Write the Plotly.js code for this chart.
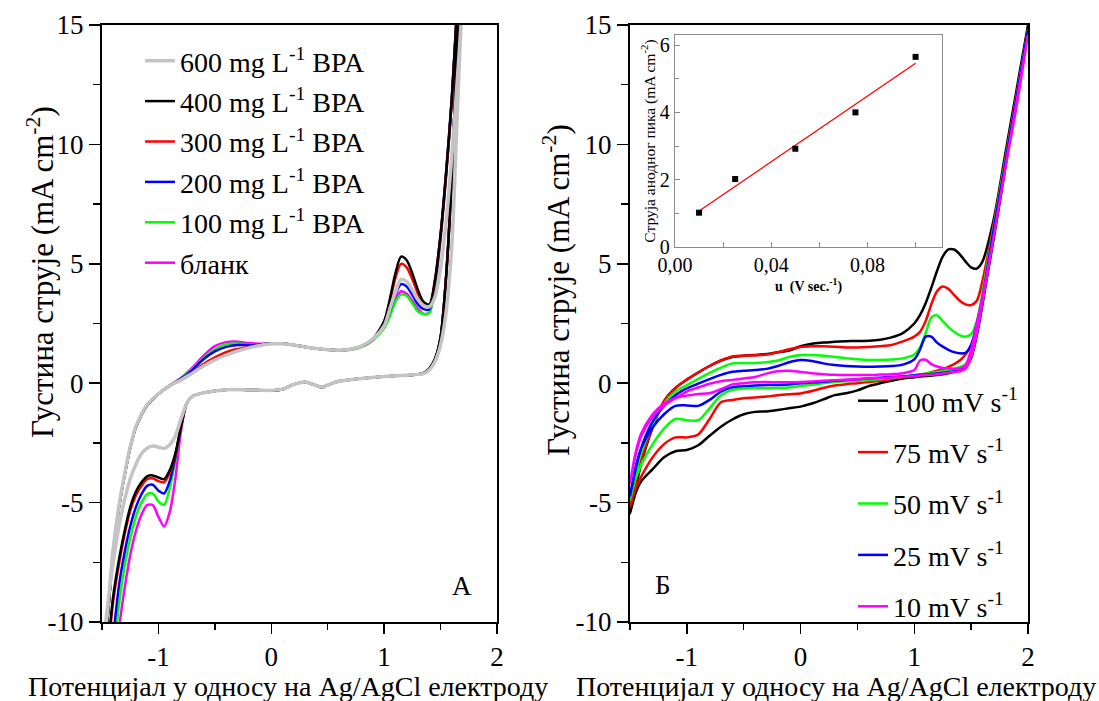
<!DOCTYPE html>
<html>
<head>
<meta charset="utf-8">
<script src="https://cdn.plot.ly/plotly-3.0.1.min.js"></script>
<style>html,body{margin:0;padding:0;background:#fff;}#chart{width:1099px;height:701px;}</style>
</head>
<body>
<div id="chart"></div>
<script>
// ---------- Panel A (left): potential grids ----------
const leftFwdE = [-1.5,-1.45,-1.4,-1.35,-1.3,-1.25,-1.2,-1.1,-1.0,-0.9,-0.8,-0.7,-0.6,-0.5,-0.4,-0.3,-0.2,-0.1,0,0.1,0.2,0.3,0.4,0.5,0.6,0.7,0.8,0.9,1.0,1.05,1.1,1.15,1.2,1.25,1.3,1.35,1.4,1.45,1.5,1.55,1.6,1.65,1.7];
const leftRevE = [1.7,1.65,1.6,1.55,1.5,1.45,1.4,1.35,1.3,1.2,1.0,0.8,0.6,0.5,0.45,0.4,0.3,0.2,0.1,0.0,-0.2,-0.4,-0.6,-0.7,-0.75,-0.8,-0.85,-0.9,-0.95,-1.0,-1.05,-1.1,-1.15,-1.2,-1.25,-1.3,-1.35,-1.4,-1.45,-1.5];

// currents (mA cm-2), forward (anodic) sweep
const bpa600Fwd = [-11.8,-9.5,-6.9,-5.15,-3.82,-2.68,-1.82,-0.9,-0.45,-0.1,0.13,0.42,0.72,0.98,1.18,1.35,1.48,1.58,1.65,1.65,1.6,1.52,1.45,1.4,1.38,1.42,1.55,1.85,2.4,3.1,3.8,4.35,4.25,3.9,3.5,3.25,3.2,3.6,4.8,6.8,9.5,12.8,16.5];
const bpa400Fwd = [-12,-9.8,-7.0,-5.2,-3.85,-2.7,-1.85,-0.92,-0.45,-0.1,0.14,0.43,0.75,1.0,1.2,1.37,1.5,1.6,1.67,1.66,1.6,1.52,1.45,1.4,1.38,1.42,1.55,1.85,2.6,3.5,4.6,5.3,5.15,4.6,3.9,3.4,3.3,4.3,6.2,8.8,11.9,16,20];
const bpa300Fwd = [-12,-9.8,-7.0,-5.2,-3.85,-2.7,-1.85,-0.92,-0.45,-0.1,0.15,0.45,0.8,1.08,1.3,1.43,1.52,1.6,1.67,1.66,1.6,1.52,1.45,1.4,1.38,1.42,1.55,1.85,2.55,3.4,4.4,5.0,4.85,4.35,3.75,3.3,3.2,4.3,6.2,8.8,11.9,16,20];
const bpa200Fwd = [-12,-9.8,-7.0,-5.2,-3.85,-2.7,-1.85,-0.92,-0.45,-0.1,0.18,0.55,1.0,1.33,1.52,1.6,1.6,1.62,1.66,1.66,1.6,1.52,1.45,1.4,1.38,1.42,1.55,1.85,2.4,3.0,3.7,4.15,4.05,3.7,3.3,3.1,3.1,4.2,6.2,8.9,12,16,20];
const bpa100Fwd = [-12,-9.8,-7.0,-5.2,-3.85,-2.7,-1.85,-0.92,-0.45,-0.1,0.2,0.6,1.05,1.42,1.63,1.66,1.63,1.63,1.65,1.65,1.6,1.52,1.45,1.4,1.37,1.4,1.52,1.8,2.3,2.8,3.4,3.72,3.65,3.35,3.0,2.9,2.95,4.1,6.1,8.8,11.9,16,20];
const blankFwd  = [-12,-9.8,-7.0,-5.2,-3.85,-2.7,-1.85,-0.92,-0.45,-0.1,0.22,0.65,1.15,1.55,1.72,1.74,1.68,1.65,1.65,1.65,1.6,1.52,1.45,1.4,1.37,1.4,1.52,1.8,2.35,2.9,3.5,3.85,3.75,3.45,3.1,2.9,2.95,4.0,6.0,8.7,11.8,15.8,20];

// reverse (cathodic) sweep
const bpa600Rev = [17,11.5,5.8,3.0,1.6,0.9,0.55,0.4,0.37,0.33,0.28,0.2,0.08,-0.08,-0.17,-0.1,0.05,-0.05,-0.25,-0.3,-0.28,-0.27,-0.4,-0.55,-0.85,-1.5,-2.2,-2.58,-2.73,-2.68,-2.63,-2.72,-2.95,-3.4,-4.0,-4.9,-6.0,-7.5,-9.3,-11.5];
const bpa400Rev = [19,14.5,8.7,4.5,1.9,1.0,0.6,0.42,0.37,0.33,0.28,0.2,0.08,-0.08,-0.17,-0.1,0.05,-0.05,-0.25,-0.3,-0.28,-0.27,-0.4,-0.55,-0.85,-1.8,-2.95,-3.65,-4.02,-3.95,-3.86,-3.9,-4.15,-4.55,-5.2,-6.2,-7.4,-8.9,-11.2,-13.5];
const bpa300Rev = [19,14.5,8.7,4.5,1.9,1.0,0.6,0.42,0.37,0.33,0.28,0.2,0.08,-0.08,-0.17,-0.1,0.05,-0.05,-0.25,-0.3,-0.28,-0.27,-0.4,-0.55,-0.85,-1.85,-3.0,-3.75,-4.15,-4.1,-3.98,-4.02,-4.3,-4.7,-5.35,-6.35,-7.6,-9.1,-11.4,-14];
const bpa200Rev = [19,14.5,8.7,4.5,1.9,1.0,0.6,0.42,0.37,0.33,0.28,0.2,0.08,-0.08,-0.17,-0.1,0.05,-0.05,-0.25,-0.3,-0.28,-0.27,-0.4,-0.55,-0.85,-1.85,-3.1,-4.1,-4.62,-4.5,-4.25,-4.3,-4.65,-5.2,-6.0,-7.1,-8.5,-10.6,-13,-15];
const bpa100Rev = [19,14.5,8.7,4.5,1.9,1.0,0.6,0.42,0.37,0.33,0.28,0.2,0.08,-0.08,-0.2,-0.1,0.05,-0.05,-0.25,-0.3,-0.28,-0.27,-0.4,-0.55,-0.85,-1.8,-3.2,-4.4,-5.1,-4.95,-4.62,-4.65,-5.0,-5.6,-6.5,-7.7,-9.3,-11.5,-14,-16];
const blankRev  = [19,14.5,8.7,4.5,1.9,1.0,0.6,0.42,0.37,0.33,0.28,0.2,0.08,-0.08,-0.17,-0.1,0.05,-0.05,-0.25,-0.3,-0.28,-0.27,-0.4,-0.55,-0.85,-2.0,-4.0,-5.4,-6.0,-5.6,-5.1,-5.1,-5.5,-6.2,-7.2,-8.6,-10.3,-12.5,-15,-17];

const leftNames = ['600 mg L<sup>-1</sup> BPA','400 mg L<sup>-1</sup> BPA','300 mg L<sup>-1</sup> BPA','200 mg L<sup>-1</sup> BPA','100 mg L<sup>-1</sup> BPA','бланк'];

// ---------- Panel Б (right): scan rates ----------
const rightFwdE = [-1.5,-1.45,-1.4,-1.3,-1.2,-1.1,-1.0,-0.9,-0.8,-0.7,-0.6,-0.5,-0.4,-0.3,-0.2,-0.1,0,0.1,0.2,0.3,0.4,0.5,0.6,0.7,0.8,0.9,1.0,1.05,1.1,1.15,1.2,1.25,1.3,1.35,1.4,1.45,1.5,1.55,1.6,1.7,1.8,1.9,2.0];
const rightRevE = [2.0,1.9,1.8,1.7,1.6,1.55,1.5,1.45,1.4,1.3,1.2,1.1,1.0,0.9,0.8,0.7,0.6,0.5,0.4,0.3,0.2,0.1,0,-0.1,-0.2,-0.3,-0.4,-0.5,-0.6,-0.7,-0.8,-0.9,-1.0,-1.1,-1.2,-1.3,-1.4,-1.45,-1.5];

const v100Fwd = [-5.45,-4.4,-3.35,-1.85,-0.75,-0.2,0.15,0.45,0.72,0.95,1.1,1.15,1.18,1.22,1.3,1.37,1.55,1.65,1.7,1.74,1.76,1.77,1.78,1.82,1.92,2.1,2.5,2.85,3.35,4.0,4.7,5.3,5.6,5.6,5.4,5.1,4.85,4.8,5.1,6.9,9.6,12.3,15.0];
const v75Fwd  = [-5.2,-4.1,-3.2,-1.8,-0.75,-0.2,0.15,0.45,0.72,0.95,1.12,1.15,1.17,1.2,1.3,1.42,1.52,1.55,1.55,1.53,1.5,1.5,1.52,1.55,1.6,1.75,1.95,2.15,2.6,3.3,3.85,4.05,3.95,3.7,3.45,3.3,3.27,3.45,4.3,6.7,9.4,12.1,14.8];
const v50Fwd  = [-4.9,-3.8,-2.9,-1.7,-0.85,-0.35,-0.08,0.18,0.43,0.65,0.83,0.85,0.85,0.88,0.95,1.1,1.18,1.18,1.15,1.1,1.05,1.0,0.97,0.97,0.99,1.04,1.2,1.5,2.1,2.75,2.85,2.6,2.35,2.15,2.0,1.95,2.05,2.6,3.8,6.6,9.3,12.0,14.8];
const v25Fwd  = [-4.75,-3.6,-2.7,-1.6,-0.95,-0.5,-0.22,-0.02,0.17,0.35,0.48,0.52,0.55,0.6,0.72,0.88,0.97,0.93,0.83,0.76,0.72,0.7,0.69,0.7,0.72,0.78,1.0,1.4,1.95,1.95,1.7,1.53,1.4,1.3,1.25,1.27,1.6,2.5,3.6,6.5,9.2,12.0,14.8];
const v10Fwd  = [-4.2,-3.0,-2.2,-1.4,-0.95,-0.63,-0.35,-0.18,-0.02,0.08,0.14,0.2,0.26,0.4,0.5,0.52,0.47,0.42,0.38,0.35,0.34,0.34,0.34,0.36,0.38,0.42,0.55,0.95,0.98,0.8,0.7,0.64,0.62,0.6,0.62,0.75,1.4,2.5,3.6,6.2,9.0,11.6,14.6];

const v100Rev = [15.0,12.0,9.0,6.1,3.4,2.1,1.1,0.7,0.55,0.42,0.34,0.3,0.25,0.2,0.1,0.0,-0.12,-0.3,-0.42,-0.5,-0.68,-0.85,-0.98,-1.05,-1.12,-1.18,-1.2,-1.3,-1.52,-1.82,-2.2,-2.6,-2.8,-2.85,-3.1,-3.6,-4.1,-4.6,-5.45];
const v75Rev  = [14.8,12.0,9.2,6.3,3.5,2.3,1.6,1.2,0.95,0.68,0.52,0.4,0.32,0.25,0.18,0.1,0.05,0.0,-0.04,-0.1,-0.2,-0.33,-0.43,-0.46,-0.5,-0.56,-0.6,-0.63,-0.7,-0.8,-1.5,-2.15,-2.27,-2.27,-2.55,-3.1,-3.9,-4.4,-5.2];
const v50Rev  = [14.8,12.0,9.2,6.3,3.4,2.1,1.15,0.8,0.68,0.55,0.47,0.4,0.33,0.27,0.22,0.17,0.13,0.1,0.08,0.05,0.0,-0.07,-0.12,-0.18,-0.2,-0.21,-0.21,-0.22,-0.28,-0.5,-1.05,-1.55,-1.55,-1.5,-1.9,-2.55,-3.4,-4.0,-4.9];
const v25Rev  = [14.8,12.0,9.2,6.3,3.3,2.0,1.05,0.65,0.53,0.47,0.41,0.37,0.33,0.29,0.26,0.23,0.2,0.17,0.13,0.1,0.06,0.03,0.0,-0.05,-0.07,-0.08,-0.1,-0.12,-0.17,-0.35,-0.7,-0.95,-0.93,-0.95,-1.3,-1.85,-2.7,-3.5,-4.75];
const v10Rev  = [14.6,11.8,9.0,6.2,3.4,2.1,1.1,0.6,0.5,0.44,0.38,0.34,0.3,0.27,0.24,0.22,0.2,0.17,0.14,0.12,0.1,0.07,0.05,0.04,0.04,0.05,0.04,0.0,-0.05,-0.25,-0.42,-0.45,-0.52,-0.62,-0.85,-1.3,-2.1,-2.9,-4.2];

const rightNames = ['100 mV s<sup>-1</sup>','75 mV s<sup>-1</sup>','50 mV s<sup>-1</sup>','25 mV s<sup>-1</sup>','10 mV s<sup>-1</sup>'];

// ---------- Inset: anodic peak current vs scan rate ----------
const scanRate = [0.01,0.025,0.05,0.075,0.1];
const peakCurrent = [1.02,2.02,2.92,4.0,5.65];
const fitX = [0.01,0.1];
const fitY = [1.07,5.46];

// tick labels and titles
const cvTickVals = [-1,0,1,2];
const cvTickText = ['-1','0','1','2'];
const jTickVals = [-10,-5,0,5,10,15];
const jTickText = ['-10','-5','0','5','10','15'];
const insetXVals = [0,0.04,0.08];
const insetXText = ['0,00','0,04','0,08'];
const insetYVals = [0,2,4,6];
const insetYText = ['0','2','4','6'];
const xTitle = 'Потенцијал у односу на Ag/AgCl електроду';
const yTitle = 'Густина струје (mA cm<sup>-2</sup>)';

const FONT = 'Liberation Serif';

function loop(fE, fI, rE, rI){ return {x: fE.concat(rE), y: fI.concat(rI)}; }

const traces = [];
const leftSpec = [
  {f: blankFwd,  r: blankRev,  c:'#ff00ff', n:5, w:2.5},
  {f: bpa100Fwd, r: bpa100Rev, c:'#00ff00', n:4, w:2.5},
  {f: bpa200Fwd, r: bpa200Rev, c:'#0000ff', n:3, w:2.5},
  {f: bpa300Fwd, r: bpa300Rev, c:'#ff0000', n:2, w:2.5},
  {f: bpa400Fwd, r: bpa400Rev, c:'#000000', n:1, w:2.5},
  {f: bpa600Fwd, r: bpa600Rev, c:'#c4c4c4', n:0, w:3.5}
];
leftSpec.forEach(s => {
  const d = loop(leftFwdE, s.f, leftRevE, s.r);
  traces.push({type:'scatter', mode:'lines', x:d.x, y:d.y, xaxis:'x', yaxis:'y',
    name: leftNames[s.n], legend:'legend', legendrank: s.n+1, legendgroup:'a'+s.n,
    line:{color:s.c, width:s.w, shape:'spline', smoothing:0.8}, hoverinfo:'skip'});
});
const rightSpec = [
  {f: v100Fwd, r: v100Rev, c:'#000000', n:0},
  {f: v75Fwd,  r: v75Rev,  c:'#ff0000', n:1},
  {f: v50Fwd,  r: v50Rev,  c:'#00ff00', n:2},
  {f: v25Fwd,  r: v25Rev,  c:'#0000ff', n:3},
  {f: v10Fwd,  r: v10Rev,  c:'#ff00ff', n:4}
];
rightSpec.forEach(s => {
  const d = loop(rightFwdE, s.f, rightRevE, s.r);
  traces.push({type:'scatter', mode:'lines', x:d.x, y:d.y, xaxis:'x2', yaxis:'y2',
    name: rightNames[s.n], legend:'legend2', legendrank: s.n+1, legendgroup:'b'+s.n,
    line:{color:s.c, width:2.5, shape:'spline', smoothing:0.8}, hoverinfo:'skip'});
});
traces.push({type:'scatter', mode:'lines', x:fitX, y:fitY, xaxis:'x3', yaxis:'y3',
  showlegend:false, line:{color:'#ff0000', width:1.3}, hoverinfo:'skip'});
traces.push({type:'scatter', mode:'markers', x:scanRate, y:peakCurrent, xaxis:'x3', yaxis:'y3',
  showlegend:false, marker:{symbol:'square', size:6, color:'#000000'}, hoverinfo:'skip'});

const mainX = (dom, anchor) => ({
  domain: dom, range:[-1.5,2], anchor: anchor, showgrid:false, zeroline:false,
  showline:true, mirror:true, linecolor:'#000', linewidth:2,
  tickmode:'array', tickvals: cvTickVals, ticktext: cvTickText,
  ticks:'outside', ticklen:10, tickwidth:1.5, tickcolor:'#000',
  minor:{tickmode:'linear', tick0:-1.5, dtick:0.5, ticks:'outside', ticklen:6, tickwidth:1.5, tickcolor:'#000', showgrid:false},
  tickfont:{family:FONT, size:27, color:'#000'}
});
const mainY = (anchor) => ({
  domain:[0.1127,0.9643], range:[-10,15], anchor: anchor, showgrid:false, zeroline:false,
  showline:true, mirror:true, linecolor:'#000', linewidth:2,
  tickmode:'array', tickvals: jTickVals, ticktext: jTickText,
  ticks:'outside', ticklen:11, tickwidth:1.5, tickcolor:'#000',
  minor:{tickmode:'linear', tick0:-10, dtick:2.5, ticks:'outside', ticklen:7, tickwidth:1.5, tickcolor:'#000', showgrid:false},
  tickfont:{family:FONT, size:27, color:'#000'}
});

const titleFont = {family:FONT, size:28, color:'#000'};
const yTitleFont = {family:FONT, size:31, color:'#000'};

const layout = {
  width:1099, height:701, autosize:false,
  margin:{l:0, r:0, t:0, b:0},
  paper_bgcolor:'#ffffff', plot_bgcolor:'rgba(0,0,0,0)',
  font:{family:FONT, color:'#000'},
  showlegend:true, hovermode:false,
  xaxis: mainX([0.0928,0.4522],'y'),
  yaxis: mainY('x'),
  xaxis2: mainX([0.5732,0.9354],'y2'),
  yaxis2: mainY('x2'),
  xaxis3: {domain:[0.6142,0.8572], range:[0,0.111], anchor:'y3', showgrid:false, zeroline:false,
    showline:true, mirror:true, linecolor:'#8a8a8a', linewidth:1.2,
    tickmode:'array', tickvals: insetXVals, ticktext: insetXText,
    ticks:'inside', ticklen:5, tickwidth:1, tickcolor:'#8a8a8a',
    minor:{tickmode:'linear', tick0:0, dtick:0.02, ticks:'inside', ticklen:5, tickwidth:1, tickcolor:'#8a8a8a', showgrid:false},
    tickfont:{family:FONT, size:20, color:'#000'},
    title:{text:'<b>u  (V sec.<sup>-1</sup>)</b>', font:{family:FONT, size:14, color:'#000'}, standoff:2}},
  yaxis3: {domain:[0.6476,0.9501], range:[0,6.3], anchor:'x3', showgrid:false, zeroline:false,
    showline:true, mirror:true, linecolor:'#8a8a8a', linewidth:1.2,
    tickmode:'array', tickvals: insetYVals, ticktext: insetYText,
    ticks:'inside', ticklen:5, tickwidth:1, tickcolor:'#8a8a8a',
    minor:{tickmode:'linear', tick0:0, dtick:1, ticks:'inside', ticklen:4, tickwidth:1, tickcolor:'#8a8a8a', showgrid:false},
    tickfont:{family:FONT, size:20, color:'#000'},
    title:{text:'Струја анодног пика (mA cm<sup>-2</sup>)', font:{family:FONT, size:15.5, color:'#000'}, standoff:0}},
  legend:{x:140/1099, y:1-36/701, xanchor:'left', yanchor:'top', bgcolor:'rgba(0,0,0,0)', borderwidth:0,
    font:{family:FONT, size:28, color:'#000'}, traceorder:'grouped', itemwidth:30, tracegroupgap:1},
  legend2:{x:853/1099, y:1-376/701, xanchor:'left', yanchor:'top', bgcolor:'rgba(0,0,0,0)', borderwidth:0,
    font:{family:FONT, size:28, color:'#000'}, traceorder:'grouped', itemwidth:30, tracegroupgap:12},
  annotations:[
    {text: xTitle, xref:'paper', yref:'paper', x:288/1099, y:1-686/701, showarrow:false, xanchor:'center', yanchor:'middle', font:titleFont},
    {text: xTitle, xref:'paper', yref:'paper', x:836/1099, y:1-686/701, showarrow:false, xanchor:'center', yanchor:'middle', font:titleFont},
    {text: yTitle, xref:'paper', yref:'paper', x:40/1099, y:1-272/701, showarrow:false, textangle:-90, xanchor:'center', yanchor:'middle', font:yTitleFont},
    {text: yTitle, xref:'paper', yref:'paper', x:556/1099, y:1-290/701, showarrow:false, textangle:-90, xanchor:'center', yanchor:'middle', font:yTitleFont},
    {text:'А', xref:'paper', yref:'paper', x:462/1099, y:1-586/701, showarrow:false, xanchor:'center', yanchor:'middle', font:{family:FONT, size:27, color:'#000'}},
    {text:'Б', xref:'paper', yref:'paper', x:663/1099, y:1-585/701, showarrow:false, xanchor:'center', yanchor:'middle', font:{family:FONT, size:27, color:'#000'}}
  ]
};

Plotly.newPlot('chart', traces, layout, {staticPlot:true, displayModeBar:false});
</script>
</body>
</html>
